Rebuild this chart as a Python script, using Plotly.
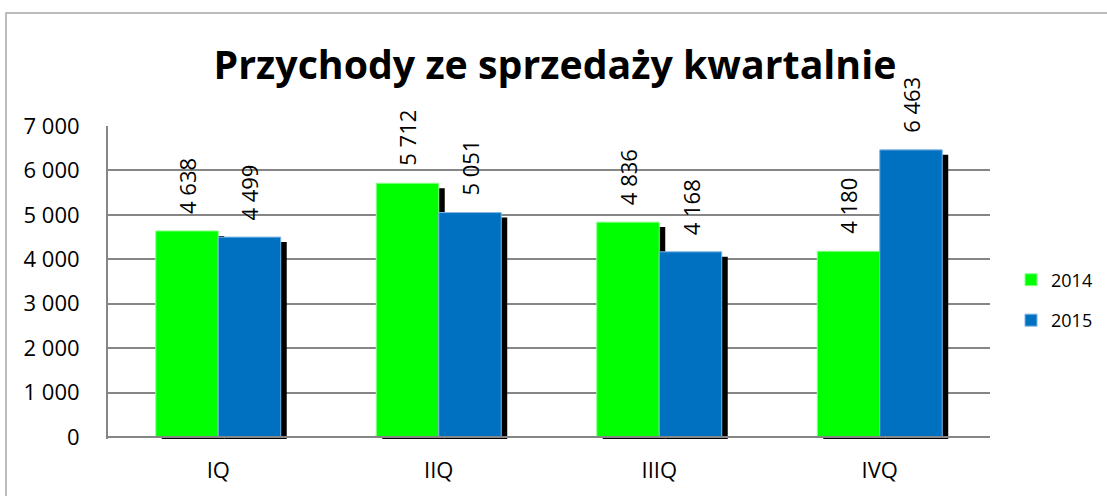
import plotly.graph_objects as go

categories = ["IQ", "IIQ", "IIIQ", "IVQ"]
series_names = ["2014", "2015"]
values_2014 = [4638, 5712, 4836, 4180]
values_2015 = [4499, 5051, 4168, 6463]
y_ticks = [0, 1000, 2000, 3000, 4000, 5000, 6000, 7000]

colors = ["#00FF00", "#0070C0"]
edge_colors = ["#8CFF8C", "#7FB6E6"]
FONT = "Open Sans"

BAR_W = 0.2834          # category units
SHADOW_DX = 0.0272      # category units (~6 px)
SHADOW_DY = 112         # data units (~5 px)
Y_MIN, Y_MAX = -45, 7000

series = [values_2014, values_2015]
offsets = [-BAR_W, 0.0]

fig = go.Figure()

# shadows first (drawn underneath)
for vals, off in zip(series, offsets):
    fig.add_trace(go.Bar(
        x=categories, y=vals, base=[-SHADOW_DY] * len(vals),
        width=BAR_W, offset=off + SHADOW_DX,
        marker=dict(color="#000000", line=dict(width=0)),
        showlegend=False, hoverinfo="skip",
    ))

for name, vals, off, c, ec in zip(series_names, series, offsets, colors, edge_colors):
    fig.add_trace(go.Bar(
        x=categories, y=vals, name=name, legendgroup=name,
        width=BAR_W, offset=off,
        marker=dict(color=c, line=dict(color=ec, width=1)),
    ))

annotations = []
for vals, off in zip(series, offsets):
    for i, v in enumerate(vals):
        annotations.append(dict(
            x=i + off + BAR_W / 2, y=v, xref="x", yref="y",
            text=f"{v:,}".replace(",", " "), showarrow=False,
            textangle=-90, yanchor="bottom", xanchor="center", yshift=15,
            font=dict(family=FONT, size=22, color="#000000"),
        ))

fig.update_layout(
    width=1107, height=496,
    margin=dict(l=108, r=117, t=126, b=57, autoexpand=False),
    paper_bgcolor="white", plot_bgcolor="white",
    barmode="overlay",
    separators=", ",
    title=dict(text="<b>Przychody ze sprzedaży kwartalnie</b>",
               x=555 / 1107, xanchor="center", xref="container",
               y=1 - 65 / 496, yanchor="middle", yref="container",
               font=dict(family=FONT, size=39.3, color="#000000")),
    annotations=annotations,
    legend=dict(x=1011 / 1107, xref="container", xanchor="left",
                y=0.444, yanchor="middle",
                font=dict(family=FONT, size=18, color="#000000"),
                traceorder="grouped", tracegroupgap=14,
                bgcolor="rgba(0,0,0,0)"),
    xaxis=dict(type="category", range=[-0.5, 3.5], anchor="free",
               position=(0 - Y_MIN) / (Y_MAX - Y_MIN),
               showline=True, linecolor="#868686", linewidth=2,
               showgrid=False, ticks="", ticklabelstandoff=14,
               tickfont=dict(family=FONT, size=22, color="#000000")),
    yaxis=dict(range=[Y_MIN, Y_MAX], tickvals=y_ticks, tickformat=",d",
               showline=True, linecolor="#868686", linewidth=2,
               showgrid=True, gridcolor="#868686", gridwidth=1.5,
               zeroline=False, ticks="", ticklabelstandoff=22,
               tickfont=dict(family=FONT, size=22, color="#000000")),
    shapes=[dict(type="rect", xref="paper", yref="paper",
                 x0=(6 - 108) / 882, x1=1.5, y0=-0.5, y1=(439 - 13) / 313,
                 line=dict(color="#A6A6A6", width=1.5), layer="below")],
)

fig.write_html("out.html", config={"displayModeBar": False},
               post_script="document.body.style.margin='0';document.body.style.overflow='hidden';")
